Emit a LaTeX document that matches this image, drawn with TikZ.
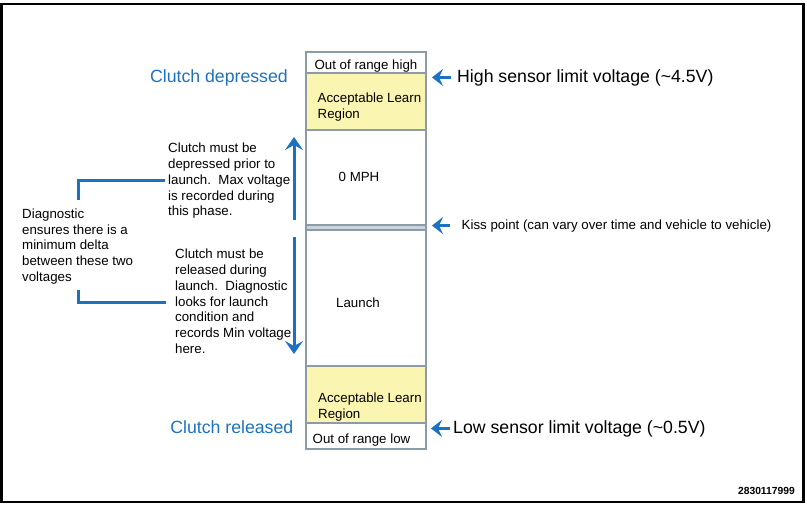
\documentclass[tikz,border=0pt]{standalone}
\usepackage{fontspec}
\setmainfont{Liberation Sans}
\usetikzlibrary{positioning,arrows.meta}
\definecolor{clutchblue}{RGB}{28,114,192}
\definecolor{bargrey}{RGB}{140,155,166}
\definecolor{learnyellow}{RGB}{251,245,178}
\definecolor{kissgrey}{RGB}{200,212,220}

\begin{document}
\begin{tikzpicture}[x=1pt,y=-1pt,
    sect/.style={rectangle,draw=bargrey,line width=2pt,minimum width=120pt,inner sep=0pt,outer sep=0pt},
    learn/.style={sect,fill=learnyellow,minimum height=57pt},
    txt/.style={inner sep=0pt,font=\fontsize{13.3}{15.8}\selectfont},
    big/.style={inner sep=0pt,font=\fontsize{17.7}{20}\selectfont},
    pointer/.style={draw=clutchblue,line width=3pt,-{Stealth[length=11pt,width=17pt,inset=4pt]}},
    updown/.style={draw=clutchblue,line width=3pt,-{Stealth[length=13pt,width=18pt,inset=5pt]}},
    bracket/.style={draw=clutchblue,line width=3pt}]
    \useasboundingbox (0,0) rectangle (807,507);
    \draw[line width=2.5pt] (1.5,4) rectangle (803.5,502);

    \node[sect,minimum height=21pt,anchor=north west] (high) at (306,52) {};
    \node[learn] (learnhi) [below=0pt of high] {};
    \node[sect,minimum height=95pt] (zero) [below=0pt of learnhi] {};
    \node[sect,minimum height=5pt,fill=kissgrey] (kiss) [below=0pt of zero] {};
    \node[sect,minimum height=136pt] (launch) [below=0pt of kiss] {};
    \node[learn] (learnlo) [below=0pt of launch] {};
    \node[sect,minimum height=26pt] (low) [below=0pt of learnlo] {};

    \node[txt,anchor=base] (highlbl) at (366,69) {Out of range high};
    \node[txt,anchor=base west,align=left] (learnhilbl) at (317.5,118) {Acceptable Learn\\Region};
    \node[txt,anchor=base] (zerolbl) at (359,181) {0 MPH};
    \node[txt,anchor=base] (launchlbl) at (358,307) {Launch};
    \node[txt,anchor=base west,align=left] (learnlolbl) at (318,418.3) {Acceptable Learn\\Region};
    \node[txt,anchor=base] (lowlbl) at (361.5,443) {Out of range low};

    \node[big,text=clutchblue,anchor=base east] (depressed) at (288,82) {Clutch depressed};
    \node[big,text=clutchblue,anchor=base east] (released) at (293.5,433) {Clutch released};
    \node[big,anchor=base west] (hiv) at (457,82) {High sensor limit voltage (\textasciitilde4.5V)};
    \node[big,anchor=base west] (lov) at (453,433) {Low sensor limit voltage (\textasciitilde0.5V)};
    \node[txt,anchor=base west] (kisslbl) at (461.5,229) {Kiss point (can vary over time and vehicle to vehicle)};

    \draw[pointer] ([xshift=-6pt]hiv.west) -- ([xshift=-25pt]hiv.west);
    \draw[pointer] ([xshift=-12pt]kisslbl.west) -- ([xshift=-29.5pt]kisslbl.west);
    \draw[pointer] ([xshift=-3pt]lov.west) -- ([xshift=-22pt]lov.west);

    \node[txt,anchor=base west,align=left] (maxnote) at (168,215.9) {Clutch must be\\depressed prior to\\launch.\ \ Max voltage\\is recorded during\\this phase.};
    \node[txt,anchor=base west,align=left] (minnote) at (175,353.5) {Clutch must be\\released during\\launch.\ \ Diagnostic\\looks for launch\\condition and\\records Min voltage\\here.};
    \node[txt,anchor=base west,align=left] (deltanote) at (22,281.5) {Diagnostic\\ensures there is a\\minimum delta\\between these two\\voltages};

    \coordinate (maxtail) at (294,220);
    \coordinate (maxtip) at (294,137);
    \coordinate (mintail) at (294,237);
    \coordinate (mintip) at (294,354);
    \draw[updown] (maxtail) -- (maxtip);
    \draw[updown] (mintail) -- (mintip);

    \coordinate (maxend) at (165,180);
    \coordinate (maxcorner) at (78,180);
    \coordinate (maxfoot) at (78,200);
    \coordinate (minfoot) at (78,290);
    \coordinate (mincorner) at (78,302);
    \coordinate (minend) at (166,302);
    \draw[bracket] (maxend) -- (maxcorner) -- (maxfoot);
    \draw[bracket] (minfoot) -- (mincorner) -- (minend);

    \node[inner sep=0pt,font=\fontsize{10.3}{12}\selectfont\bfseries,anchor=base east] (serial) at (795,494) {2830117999};
\end{tikzpicture}
\end{document}
